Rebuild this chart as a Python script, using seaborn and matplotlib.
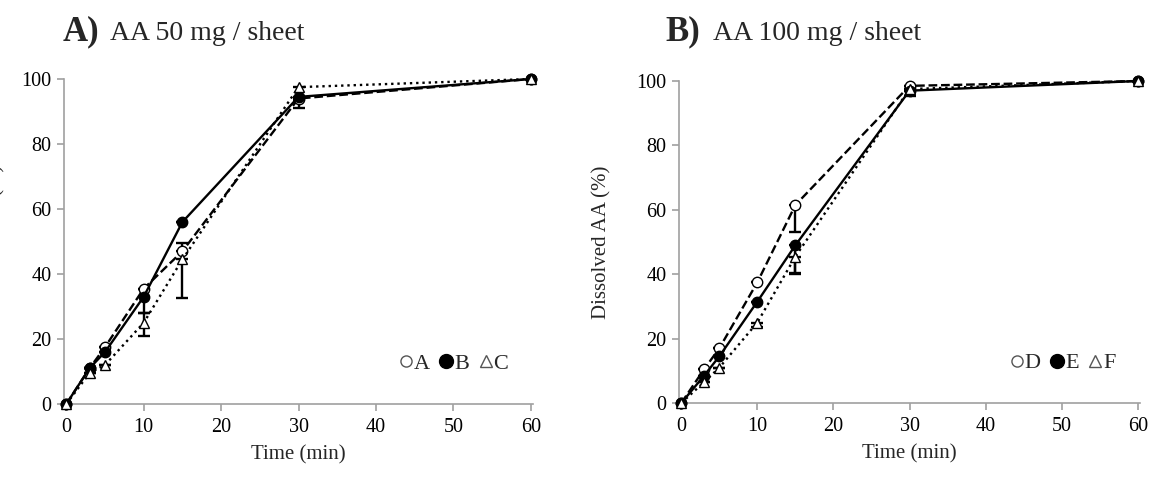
import numpy as np
import pandas as pd
import matplotlib.pyplot as plt
import seaborn as sns
from matplotlib.lines import Line2D

# time points (min)
time = [0, 3, 5, 10, 15, 30, 60]

# Panel A: AA 50 mg / sheet
a_vals = [0, 11, 17.5, 35.5, 47, 94, 100]
b_vals = [0, 11, 16, 33, 56, 94.5, 100]
c_vals = [0, 9.5, 12, 25, 44.5, 97.5, 100]
a_err_lo = [0, 0, 0, 0, 0, 3, 0]
a_err_hi = [0, 0, 0, 0, 2.5, 0, 0]
b_err_lo = [0, 0, 0, 5, 0, 0, 0]
b_err_hi = [0, 0, 0, 0, 0, 0, 0]
c_err_lo = [0, 0, 0, 4, 12, 4, 0]
c_err_hi = [0, 0, 0, 3, 0, 0, 0]

# Panel B: AA 100 mg / sheet
d_vals = [0, 10.5, 17, 37.5, 61.5, 98.5, 100]
e_vals = [0, 8.5, 14.5, 31.5, 49, 97, 100]
f_vals = [0, 6.5, 11, 25, 45.5, 97.5, 100]
d_err_lo = [0, 0, 0, 0, 8.5, 0, 0]
d_err_hi = [0, 0, 0, 0, 0, 0, 0]
e_err_lo = [0, 0, 0, 0, 8.5, 1.5, 0]
e_err_hi = [0, 0, 0, 0, 0, 0, 0]
f_err_lo = [0, 0, 0, 1.5, 5.5, 0, 0]
f_err_hi = [0, 0, 0, 0, 0, 0, 0]

sns.set_style("white")
plt.rcParams["font.family"] = ["Liberation Serif", "DejaVu Serif"]

fig = plt.figure(figsize=(11.55, 4.78), dpi=100)
ax1 = fig.add_axes([0.0554, 0.1548, 0.4061, 0.6799])
ax2 = fig.add_axes([0.5879, 0.1569, 0.3991, 0.6736])

styles = [
    dict(ls="--", marker="o", mfc="white"),
    dict(ls="-", marker="o", mfc="black"),
    dict(ls=":", marker="^", mfc="white"),
]


def draw_panel(ax, series, errs, labels):
    for vals, (lo, hi), st in zip(series, errs, styles):
        df = pd.DataFrame({"t": time, "v": vals})
        sns.lineplot(data=df, x="t", y="v", ax=ax, color="black", linestyle=st["ls"],
                     marker=st["marker"], markersize=7.5, markerfacecolor=st["mfc"],
                     markeredgecolor="black", markeredgewidth=1.0, linewidth=1.7,
                     clip_on=False, zorder=3)
        ax.errorbar(time, vals, yerr=[lo, hi], fmt="none", ecolor="black",
                    elinewidth=1.7, capsize=4, capthick=1.7, zorder=2)
    ax.set_xlim(-0.3, 60.3)
    ax.set_ylim(0, 100)
    ax.set_xticks(range(0, 61, 10))
    ax.set_yticks(range(0, 101, 20))
    ax.set_xlabel("Time (min)", fontsize=15, labelpad=6)
    ax.set_ylabel("Dissolved AA (%)", fontsize=15)
    for side in ["top", "right"]:
        ax.spines[side].set_visible(False)
    for side in ["left", "bottom"]:
        ax.spines[side].set_color("#a0a0a0")
        ax.spines[side].set_linewidth(1.2)
        ax.spines[side].set_zorder(1)
    ax.tick_params(axis="both", which="both", labelsize=14.5, colors="#a0a0a0",
                   labelcolor="black", length=5, width=1.2, direction="out",
                   bottom=True, left=True)
    ax.tick_params(axis="x", pad=5)
    ax.tick_params(axis="y", pad=4)
    handles = [
        Line2D([], [], ls="none", marker="o", mfc="white", mec="#555555", markersize=8),
        Line2D([], [], ls="none", marker="o", mfc="black", mec="black", markersize=10),
        Line2D([], [], ls="none", marker="^", mfc="white", mec="#555555", markersize=8),
    ]
    ax.legend(handles, labels, loc="lower right", bbox_to_anchor=(0.99, 0.03),
              ncol=3, frameon=False, fontsize=16, handlelength=0.6,
              handletextpad=0.05, columnspacing=0.45)


draw_panel(ax1, [a_vals, b_vals, c_vals],
           [(a_err_lo, a_err_hi), (b_err_lo, b_err_hi), (c_err_lo, c_err_hi)],
           ["A", "B", "C"])
draw_panel(ax2, [d_vals, e_vals, f_vals],
           [(d_err_lo, d_err_hi), (e_err_lo, e_err_hi), (f_err_lo, f_err_hi)],
           ["D", "E", "F"])

# panel A label is partly cut at the left edge, as in the original
ax1.yaxis.set_label_coords(-0.125, 0.5)
ax2.yaxis.set_label_coords(-0.1475, 0.5)

# panel titles
fig.text(0.054, 0.933, "A)", fontsize=25, fontweight="bold", va="center")
fig.text(0.095, 0.930, "AA 50 mg / sheet", fontsize=20, va="center")
fig.text(0.576, 0.933, "B)", fontsize=25, fontweight="bold", va="center")
fig.text(0.617, 0.930, "AA 100 mg / sheet", fontsize=20, va="center")

fig.savefig("out.png", dpi=100)
